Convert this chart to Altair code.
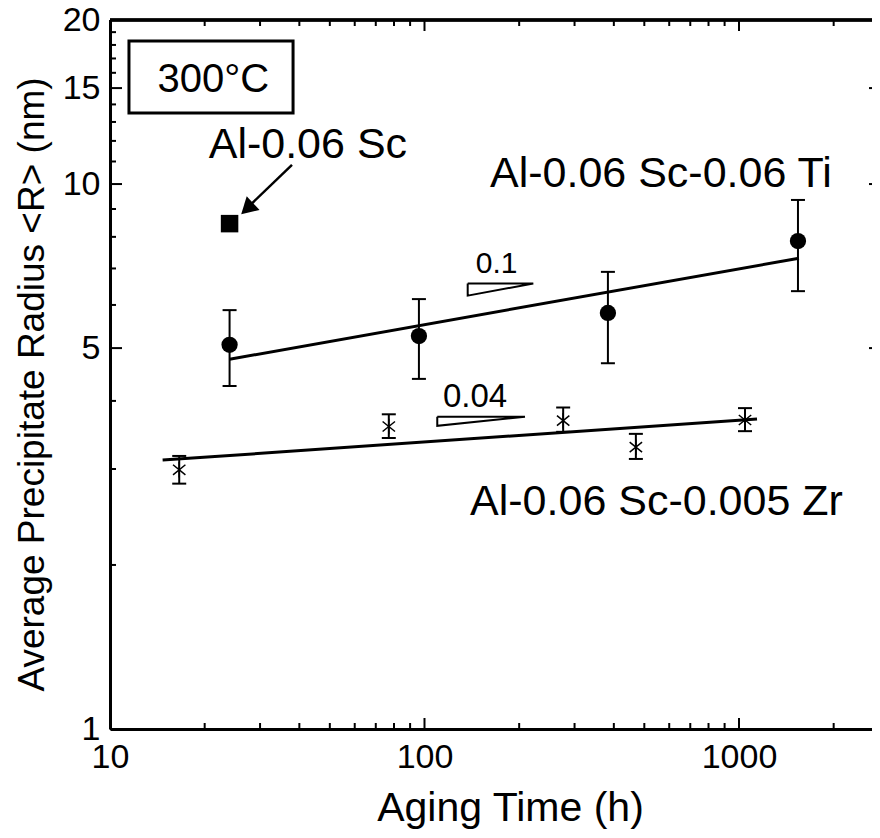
import altair as alt
import pandas as pd

# ---- data (log-log axes) ----
ti_time = [24, 96, 383, 1540]
ti_r = [5.07, 5.26, 5.80, 7.86]
ti_lo = [4.26, 4.39, 4.69, 6.36]
ti_hi = [5.87, 6.15, 6.90, 9.35]

zr_time = [16.6, 77, 276, 470, 1045]
zr_r = [2.99, 3.59, 3.68, 3.29, 3.69]
zr_lo = [2.82, 3.42, 3.51, 3.13, 3.52]
zr_hi = [3.17, 3.78, 3.89, 3.48, 3.88]

sc_time = [24]
sc_r = [8.46]

ti_fit_time = [24, 1551]
ti_fit_r = [4.77, 7.31]
zr_fit_time = [14.7, 1141]
zr_fit_r = [3.115, 3.706]

# slope triangles (vertices)
tri1_time = [137.2, 221.8, 137.2, 137.2]
tri1_r = [6.57, 6.57, 6.24, 6.57]
tri2_time = [109.8, 208.7, 109.8, 109.8]
tri2_r = [3.74, 3.74, 3.60, 3.74]

# annotation text
label_text = ["Al-0.06 Sc-0.06 Ti", "Al-0.06 Sc-0.005 Zr", "Al-0.06 Sc"]
label_time = [161.5, 139.6, 20.6]
label_r = [9.87, 2.47, 11.16]
slope1_text = ["0.1"]
slope1_time = [145.5]
slope1_r = [6.87]
slope2_text = ["0.04"]
slope2_time = [114.5]
slope2_r = [3.90]
temp_text = ["300°C"]
temp_time = [21.3]
temp_r = [14.75]
box_time = [11.49, 38.2]
box_r = [13.5, 18.3]
arrow_time = [37.9, 27.9]
arrow_r = [10.84, 9.15]
head_time = [27.3]
head_r = [9.01]

# axis ticks
x_major = [10, 100, 1000]
x_minor = [20, 30, 40, 50, 60, 70, 80, 90, 200, 300, 400, 500, 600, 700, 800, 900, 2000]
y_major = [1, 5, 10, 15, 20]
y_minor = [2, 3, 4, 6, 7, 8, 9, 11, 12, 13, 14, 16, 17, 18, 19]
y_right = [5, 10, 15]

W, H = 762, 709
FONT = "Liberation Sans"

xs = alt.Scale(type="log", domain=[10, 2648], nice=False)
ys = alt.Scale(type="log", domain=[1, 20], nice=False)

xaxis = alt.Axis(values=x_major, format="d", ticks=False, grid=False, domain=True,
                 domainColor="black", domainWidth=3, labelFontSize=34, labelFont=FONT,
                 labelColor="black", labelPadding=11, labelFlush=False, labelOverlap=False,
                 title="Aging Time (h)", titleFont=FONT, titleFontSize=41,
                 titleFontWeight="normal", titleColor="black", titleBaseline="alphabetic",
                 titleX=400, titleY=91, titleAlign="center")
yaxis = alt.Axis(values=y_major, format="d", ticks=False, grid=False, domain=True,
                 domainColor="black", domainWidth=3, labelFontSize=34, labelFont=FONT,
                 labelColor="black", labelPadding=10, labelFlush=False, labelOverlap=False,
                 title="Average Precipitate Radius <R> (nm)", titleFont=FONT,
                 titleFontSize=37, titleFontWeight="normal", titleColor="black",
                 titleBaseline="alphabetic", titleAngle=-90, titleX=-67, titleY=364,
                 titleAlign="center")


def X(f="t"):
    return alt.X(f + ":Q", scale=xs, axis=xaxis)


def Y(f="r"):
    return alt.Y(f + ":Q", scale=ys, axis=yaxis)


df_ti = pd.DataFrame({"t": ti_time, "r": ti_r, "lo": ti_lo, "hi": ti_hi})
df_zr = pd.DataFrame({"t": zr_time, "r": zr_r, "lo": zr_lo, "hi": zr_hi})
df_sc = pd.DataFrame({"t": sc_time, "r": sc_r})
df_tifit = pd.DataFrame({"t": ti_fit_time, "r": ti_fit_r})
df_zrfit = pd.DataFrame({"t": zr_fit_time, "r": zr_fit_r})
df_tri = pd.DataFrame({
    "t": tri1_time + tri2_time,
    "r": tri1_r + tri2_r,
    "g": ["a"] * 4 + ["b"] * 4,
    "o": list(range(4)) * 2,
})
df_lab = pd.DataFrame({"t": label_time, "r": label_r, "s": label_text})
df_slope1 = pd.DataFrame({"t": slope1_time, "r": slope1_r, "s": slope1_text})
df_slope2 = pd.DataFrame({"t": slope2_time, "r": slope2_r, "s": slope2_text})
df_temp = pd.DataFrame({"t": temp_time, "r": temp_r, "s": temp_text})
df_box = pd.DataFrame({"t": [box_time[0]], "t2": [box_time[1]], "r": [box_r[0]], "r2": [box_r[1]]})
df_arrow = pd.DataFrame({"t": arrow_time, "r": arrow_r})
df_head = pd.DataFrame({"t": head_time, "r": head_r})

layers = []

# fit lines
layers.append(alt.Chart(df_tifit).mark_line(color="black", strokeWidth=3)
              .encode(x=X(), y=Y()))
layers.append(alt.Chart(df_zrfit).mark_line(color="black", strokeWidth=3)
              .encode(x=X(), y=Y()))

# error bars
for df in (df_ti, df_zr):
    layers.append(alt.Chart(df).mark_rule(color="black", strokeWidth=2)
                  .encode(x=X(), y=Y("lo"), y2="hi:Q"))
    for f in ("lo", "hi"):
        layers.append(alt.Chart(df).mark_tick(color="black", orient="horizontal",
                                              size=14, thickness=2, opacity=1)
                      .encode(x=X(), y=Y(f)))

# markers
layers.append(alt.Chart(df_ti).mark_point(shape="circle", filled=True, size=265,
                                          color="black", opacity=1)
              .encode(x=X(), y=Y()))
layers.append(alt.Chart(df_zr).mark_point(
    shape="M0,-1L0,1M-0.8,-0.65L0.8,0.65M-0.8,0.65L0.8,-0.65",
    filled=False, size=240, color="black", strokeWidth=1.5, opacity=1)
    .encode(x=X(), y=Y()))
layers.append(alt.Chart(df_sc).mark_point(shape="square", filled=True, size=306,
                                          color="black", opacity=1)
              .encode(x=X(), y=Y()))

# slope triangles
layers.append(alt.Chart(df_tri).mark_line(color="black", strokeWidth=2)
              .encode(x=X(), y=Y(), detail="g:N", order="o:Q"))

# box around temperature
layers.append(alt.Chart(df_box).mark_rect(fillOpacity=0, stroke="black", strokeWidth=3)
              .encode(x=X(), x2="t2:Q", y=Y(), y2="r2:Q"))

# arrow
layers.append(alt.Chart(df_arrow).mark_line(color="black", strokeWidth=2.5)
              .encode(x=X(), y=Y()))
layers.append(alt.Chart(df_head).mark_point(shape="triangle-up", angle=227, size=354,
                                            filled=True, color="black", opacity=1)
              .encode(x=X(), y=Y()))

# texts
layers.append(alt.Chart(df_lab).mark_text(align="left", baseline="alphabetic", fontSize=43,
                                          font=FONT, color="black")
              .encode(x=X(), y=Y(), text="s:N"))
layers.append(alt.Chart(df_slope1).mark_text(align="left", baseline="alphabetic", fontSize=30,
                                             font=FONT, color="black")
              .encode(x=X(), y=Y(), text="s:N"))
layers.append(alt.Chart(df_slope2).mark_text(align="left", baseline="alphabetic", fontSize=33,
                                             font=FONT, color="black")
              .encode(x=X(), y=Y(), text="s:N"))
layers.append(alt.Chart(df_temp).mark_text(align="center", baseline="alphabetic", fontSize=40,
                                           font=FONT, color="black")
              .encode(x=X(), y=Y(), text="s:N"))

# inward ticks
df_xmaj = pd.DataFrame({"t": x_major})
df_xmin = pd.DataFrame({"t": x_minor})
df_ymaj = pd.DataFrame({"r": y_major})
df_ymin = pd.DataFrame({"r": y_minor})
df_yright = pd.DataFrame({"r": y_right})

layers.append(alt.Chart(df_xmaj).mark_rule(color="black", strokeWidth=2)
              .encode(x=X(), y=alt.value(H), y2=alt.value(H - 11)))
layers.append(alt.Chart(df_xmin).mark_rule(color="black", strokeWidth=2)
              .encode(x=X(), y=alt.value(H), y2=alt.value(H - 6)))
layers.append(alt.Chart(df_xmaj).mark_rule(color="black", strokeWidth=2)
              .encode(x=X(), y=alt.value(0), y2=alt.value(11)))
layers.append(alt.Chart(df_xmin).mark_rule(color="black", strokeWidth=2)
              .encode(x=X(), y=alt.value(0), y2=alt.value(6)))
layers.append(alt.Chart(df_ymaj).mark_rule(color="black", strokeWidth=2)
              .encode(y=Y(), x=alt.value(0), x2=alt.value(12)))
layers.append(alt.Chart(df_ymin).mark_rule(color="black", strokeWidth=2)
              .encode(y=Y(), x=alt.value(0), x2=alt.value(6)))
layers.append(alt.Chart(df_yright).mark_rule(color="black", strokeWidth=2)
              .encode(y=Y(), x=alt.value(W - 3), x2=alt.value(W)))

# top frame line
layers.append(alt.Chart(df_xmaj).mark_rule(color="black", strokeWidth=3)
              .encode(x=alt.value(0), x2=alt.value(W), y=alt.value(0)))

chart = (alt.layer(*layers)
         .properties(width=W, height=H,
                     autosize=alt.AutoSizeParams(type="none"),
                     padding={"left": 102, "top": 12, "right": 0, "bottom": 100})
         .configure_view(stroke=None)
         .configure(background="white"))

chart.save("out.html", embed_options={"renderer": "svg", "actions": False})
